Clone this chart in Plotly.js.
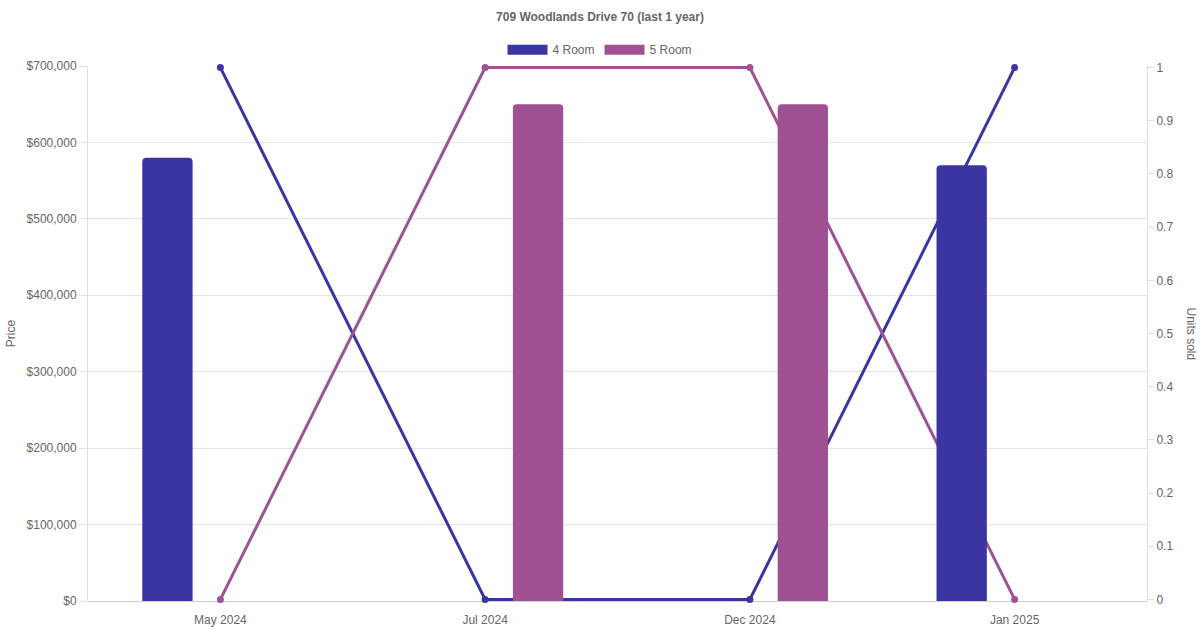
<!DOCTYPE html>
<html>
<head>
<meta charset="utf-8">
<script src="https://cdn.plot.ly/plotly-3.0.1.min.js"></script>
<style>
  html, body { margin: 0; padding: 0; background: #fff; }
  #chart { width: 1200px; height: 630px; }
</style>
</head>
<body>
<div id="chart"></div>
<script>
// months with transactions
const months = ['May 2024', 'Jul 2024', 'Dec 2024', 'Jan 2025']

// average price per flat type
const price4Room = [580000, null, null, 570000]
const price5Room = [null, 650000, 650000, null]

// units sold per flat type
const units4Room = [1, 0, 0, 1]
const units5Room = [0, 1, 1, 0]

const COL4 = '#3a35a1'
const COL5 = '#a05194'
const FONT = 'Liberation Sans, Arial, Helvetica, sans-serif'
const TXT = 'rgb(102,102,102)'

// bars sit at -0.2 / +0.2 of a category, 50px wide (~0.19 of a category)
const barW = 0.19

function barTrace(name, y, colour, centre) {
    return {
        type: 'bar', name: name, x: months, y: y,
        yaxis: 'y2',
        width: barW, offset: centre - barW / 2,
        marker: {color: colour},
        legendgroup: name, showlegend: false,
        hovertemplate: '%{x}<br>' + name + ': $%{y:,}<extra></extra>'
    }
}

function lineTrace(name, y, colour) {
    return {
        type: 'scatter', mode: 'lines+markers', name: name, x: months, y: y,
        yaxis: 'y', cliponaxis: false,
        line: {color: colour, width: 3},
        marker: {color: colour, size: 7},
        legendgroup: name, showlegend: false
    }
}

// legend-only entries so the swatch is a wide box like the original
function legendTrace(name, colour) {
    return {
        type: 'scatter', mode: 'lines', name: name, x: [null], y: [null],
        line: {color: colour, width: 12},
        legendgroup: name, showlegend: true, hoverinfo: 'skip'
    }
}

const traces = [
    lineTrace('4 Room', units4Room, COL4),
    lineTrace('5 Room', units5Room, COL5),
    barTrace('4 Room', price4Room, COL4, -0.2),
    barTrace('5 Room', price5Room, COL5, 0.2),
    legendTrace('4 Room', COL4),
    legendTrace('5 Room', COL5)
]

const layout = {
    width: 1200, height: 630,
    margin: {l: 88, r: 53, t: 66, b: 29},
    paper_bgcolor: '#fff', plot_bgcolor: '#fff',
    font: {family: FONT, size: 12, color: TXT},
    title: {
        text: '<b>709 Woodlands Drive 70 (last 1 year)</b>',
        x: 0.5, xref: 'container', y: 0.973, yanchor: 'middle',
        font: {family: FONT, size: 12, color: TXT}
    },
    showlegend: true,
    legend: {
        orientation: 'h', x: 0.5, xref: 'container', xanchor: 'center',
        y: 0.921, yref: 'container', yanchor: 'middle', itemwidth: 40,
        font: {family: FONT, size: 12, color: TXT},
        traceorder: 'normal'
    },
    barcornerradius: 4,
    xaxis: {
        type: 'category', range: [-0.5, 3.5],
        showgrid: false, zeroline: false,
        showline: false, ticks: '', ticklabelstandoff: 10,
        tickfont: {size: 12, color: TXT}
    },
    yaxis: {
        // a hair of padding so the 0 and 1 lines are not cut in half
        side: 'right', range: [-0.003, 1.003], tick0: 0, dtick: 0.1,
        showgrid: false, zeroline: false,
        showline: true, linecolor: '#e0e0e0', linewidth: 1,
        ticks: 'outside', ticklen: 6, tickcolor: '#e0e0e0',
        tickfont: {family: FONT, size: 12, color: TXT},
        fixedrange: true
    },
    yaxis2: {
        overlaying: 'y', side: 'left', range: [0, 700000], dtick: 100000,
        tickprefix: '$', tickformat: ',d',
        showgrid: true, gridcolor: '#e5e5e5', gridwidth: 1,
        zeroline: true, zerolinecolor: '#cfcfcf', zerolinewidth: 1,
        showline: true, linecolor: '#e0e0e0', linewidth: 1,
        ticks: 'outside', ticklen: 8, tickcolor: '#e5e5e5',
        tickfont: {family: FONT, size: 12, color: TXT},
        title: {text: 'Price', standoff: 8, font: {size: 12, color: TXT}},
        fixedrange: true
    },
    annotations: [{
        text: 'Units sold', textangle: 90,
        xref: 'paper', yref: 'paper', x: 1, xshift: 35, y: 0.5,
        xanchor: 'left', yanchor: 'middle', showarrow: false,
        font: {family: FONT, size: 12, color: TXT}
    }]
}

Plotly.newPlot('chart', traces, layout, {displayModeBar: false, responsive: false})
</script>
</body>
</html>
